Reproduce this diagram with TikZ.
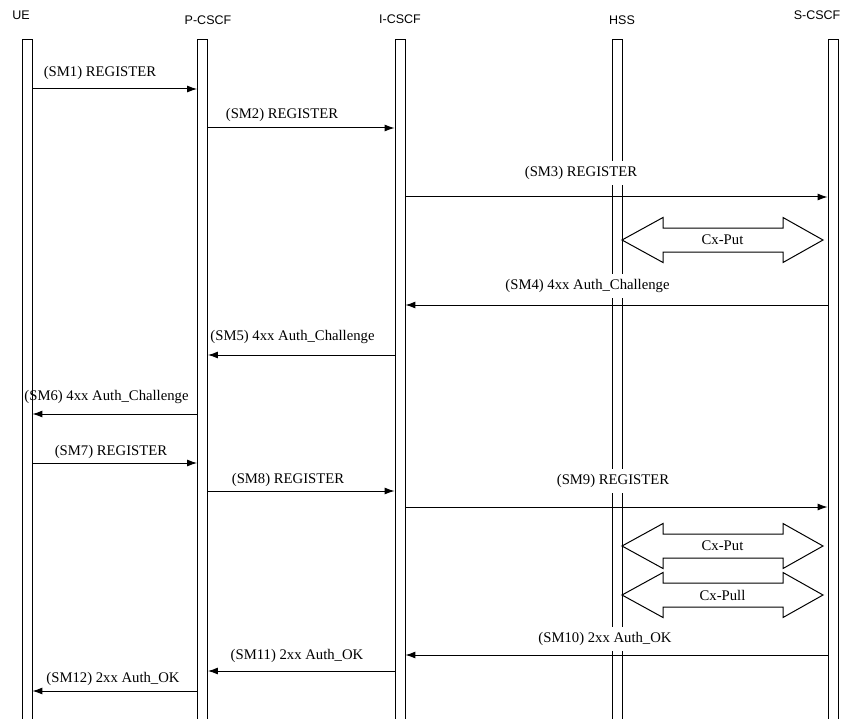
\documentclass[tikz,border=0pt]{standalone}
\usepackage{fontspec}
\setmainfont{Liberation Serif}
\newfontfamily\hdrfont{Liberation Sans}
\usepackage{tikz}
\usetikzlibrary{arrows.meta, positioning, calc}

\tikzset{
    lifeline/.style={draw, line width=0.8pt, minimum width=10pt, minimum height=700pt, inner sep=0pt, anchor=north},
    header/.style={font=\hdrfont\fontsize{12.5}{14}\selectfont, inner sep=0pt},
    msglabel/.style={font=\fontsize{14.7}{16}\selectfont, inner sep=0pt},
    gaplabel/.style={msglabel, fill=white, inner xsep=1pt, inner ysep=5pt},
    msg/.style={line width=1pt, -{Latex[length=10pt,width=7pt]}},
    cx/.style={line width=1pt}
}

% Cx double arrow between HSS and S-CSCF: name, y, text
\newcommand{\cxarrow}[3]{%
    \draw[cx] (622,#2) -- (663,#2-22.5) -- (663,#2-12) -- (783,#2-12) -- (783,#2-22.5)
        -- (823,#2) -- (783,#2+22.5) -- (783,#2+12) -- (663,#2+12) -- (663,#2+22.5) -- cycle;
    \node[msglabel] (#1) at (722.5,#2) {#3};%
}

\begin{document}
\begin{tikzpicture}[x=1pt, y=-1pt]
    \useasboundingbox (0,0) rectangle (850,719);

    % Entities
    \node[header] (ueL) at (21,15) {UE};
    \node[header] (pcscfL) at (208,20) {P-CSCF};
    \node[header] (icscfL) at (400,19) {I-CSCF};
    \node[header] (hssL) at (622,20) {HSS};
    \node[header] (scscfL) at (817,15) {S-CSCF};

    % Lifelines
    \node[lifeline] (ue) at (27,39) {};
    \node[lifeline] (pcscf) at (202.5,39) {};
    \node[lifeline] (icscf) at (400,39) {};
    \node[lifeline] (hss) at (617,39) {};
    \node[lifeline] (scscf) at (833,39) {};

    % Message heights
    \foreach \n/\y in {1/89, 2/128, 3/197, 4/305, 5/355, 6/414, 7/463, 8/491, 9/507, 10/655, 11/671, 12/691}
        \coordinate (m\n) at (0,\y);

    % First registration
    \draw[msg] (ue.east |- m1) -- (pcscf.west |- m1);
    \node[msglabel] (l1) at (100,73) {(SM1) REGISTER};
    \draw[msg] (pcscf.east |- m2) -- (icscf.west |- m2);
    \node[msglabel] (l2) at (282,115) {(SM2) REGISTER};
    \node[gaplabel] (l3) at (581,173) {(SM3) REGISTER};
    \draw[msg] (icscf.east |- m3) -- (scscf.west |- m3);

    \cxarrow{cx1}{240}{Cx-Put}

    % Challenge
    \node[gaplabel] (l4) at (587.5,286) {(SM4) 4xx Auth\_Challenge};
    \draw[msg] (scscf.west |- m4) -- (icscf.east |- m4);
    \draw[msg] (icscf.west |- m5) -- (pcscf.east |- m5);
    \node[msglabel] (l5) at (292.5,337) {(SM5) 4xx Auth\_Challenge};
    \draw[msg] (pcscf.west |- m6) -- (ue.east |- m6);
    \node[msglabel] (l6) at (106.5,397) {(SM6) 4xx Auth\_Challenge};

    % Second registration
    \draw[msg] (ue.east |- m7) -- (pcscf.west |- m7);
    \node[msglabel] (l7) at (111,452) {(SM7) REGISTER};
    \draw[msg] (pcscf.east |- m8) -- (icscf.west |- m8);
    \node[msglabel] (l8) at (288,480) {(SM8) REGISTER};
    \node[gaplabel] (l9) at (613,481) {(SM9) REGISTER};
    \draw[msg] (icscf.east |- m9) -- (scscf.west |- m9);

    \cxarrow{cx2}{546}{Cx-Put}
    \cxarrow{cx3}{595}{Cx-Pull}

    % Success
    \node[gaplabel] (l10) at (605,639) {(SM10) 2xx Auth\_OK};
    \draw[msg] (scscf.west |- m10) -- (icscf.east |- m10);
    \draw[msg] (icscf.west |- m11) -- (pcscf.east |- m11);
    \node[msglabel] (l11) at (297,656) {(SM11) 2xx Auth\_OK};
    \draw[msg] (pcscf.west |- m12) -- (ue.east |- m12);
    \node[msglabel] (l12) at (113,679) {(SM12) 2xx Auth\_OK};
\end{tikzpicture}
\end{document}
